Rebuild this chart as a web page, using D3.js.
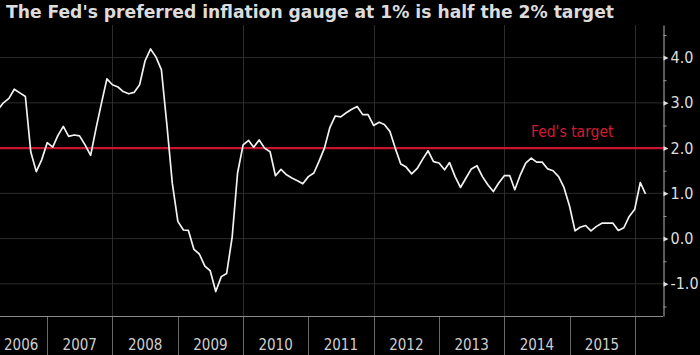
<!DOCTYPE html>
<html><head><meta charset="utf-8">
<script src="https://cdn.jsdelivr.net/npm/d3@7"></script>
<style>html,body{margin:0;padding:0;background:#000;overflow:hidden}</style>
</head><body><svg id="chart" width="700" height="355"></svg>
<script>
const title = "The Fed's preferred inflation gauge at 1% is half the 2% target";
const firstMonth = "2006-04";
const pce2006 = [2.85, 3.0, 3.1, 3.3, 3.22, 3.14, 1.92, 1.48, 1.74];            // Apr-Dec
const pce2007 = [2.12, 2.02, 2.27, 2.48, 2.26, 2.29, 2.27, 2.07, 1.84, 2.43, 3.0, 3.53];
const pce2008 = [3.4, 3.35, 3.25, 3.2, 3.23, 3.4, 3.92, 4.19, 4.01, 3.73, 2.5, 1.22];
const pce2009 = [0.38, 0.19, 0.18, -0.24, -0.34, -0.61, -0.71, -1.17, -0.84, -0.77, 0.04, 1.45];
const pce2010 = [2.07, 2.17, 2.02, 2.18, 2.0, 1.92, 1.39, 1.53, 1.41, 1.34, 1.28, 1.21];
const pce2011 = [1.37, 1.45, 1.7, 2.0, 2.45, 2.71, 2.69, 2.78, 2.86, 2.92, 2.74, 2.74];
const pce2012 = [2.5, 2.57, 2.52, 2.37, 2.0, 1.65, 1.58, 1.43, 1.55, 1.75, 1.94, 1.7];
const pce2013 = [1.67, 1.52, 1.68, 1.37, 1.13, 1.34, 1.54, 1.61, 1.37, 1.19, 1.04, 1.23];
const pce2014 = [1.39, 1.39, 1.08, 1.41, 1.67, 1.78, 1.69, 1.69, 1.54, 1.5, 1.37, 1.13];
const pce2015 = [0.72, 0.17, 0.25, 0.29, 0.17, 0.27, 0.34, 0.34, 0.34, 0.18, 0.24, 0.49];
const pce2016 = [0.65, 1.24, 0.99];                                               // Jan-Mar
const yearLabels = ["2006","2007","2008","2009","2010","2011","2012","2013","2014","2015"];
const yTickValues = [-1, 0, 1, 2, 3, 4];
const yMinorValues = [-1.5, -0.5, 0.5, 1.5, 2.5, 3.5, 4.5];
const targetValue = 2;
const targetLabel = "Fed's target";

const values = [].concat(pce2006, pce2007, pce2008, pce2009, pce2010, pce2011,
  pce2012, pce2013, pce2014, pce2015, pce2016);
const start = d3.timeParse("%Y-%m")(firstMonth);
const data = values.map((v, i) => ({date: d3.timeMonth.offset(start, i), value: v}));

const FONT = "'DejaVu Sans Condensed', 'DejaVu Sans', sans-serif";
const W = 700, H = 355;
const plot = {left: 0, right: 663, top: 25, bottom: 316};
const svg = d3.select("#chart");
svg.append("rect").attr("width", W).attr("height", H).attr("fill", "#000");

const x = d3.scaleTime()
  .domain([new Date(2006, 3, 12), new Date(2016, 5, 7)])
  .range([plot.left, plot.right]);
const y = d3.scaleLinear().domain([-1.71, 4.72]).range([plot.bottom, plot.top]);

// title
svg.append("text").attr("x", 6).attr("y", 18)
  .attr("font-family", FONT).attr("font-stretch", "condensed")
  .attr("font-weight", "bold").attr("font-size", 17)
  .attr("fill", "#dcdcdc")
  .attr("textLength", 608).attr("lengthAdjust", "spacingAndGlyphs")
  .text(title);

// horizontal gridlines
svg.append("g").selectAll("line").data(yTickValues).join("line")
  .attr("x1", plot.left).attr("x2", plot.right)
  .attr("y1", d => y(d)).attr("y2", d => y(d))
  .attr("stroke", "#2c2c2c").attr("stroke-width", 1);

// vertical gridlines every two years
const yearStarts = yearLabels.map(s => new Date(+s, 0, 1)).concat([new Date(2016, 0, 1)]);
svg.append("g").selectAll("line")
  .data(yearStarts.filter(d => d.getFullYear() % 2 === 0 && x(d) > plot.left))
  .join("line")
  .attr("x1", d => Math.round(x(d)) + 0.5).attr("x2", d => Math.round(x(d)) + 0.5)
  .attr("y1", plot.top).attr("y2", plot.bottom)
  .attr("stroke", "#2c2c2c").attr("stroke-width", 1);

// year separators below plot
svg.append("g").selectAll("line")
  .data(yearStarts.filter(d => x(d) > plot.left))
  .join("line")
  .attr("x1", d => Math.round(x(d)) + 0.5).attr("x2", d => Math.round(x(d)) + 0.5)
  .attr("y1", plot.bottom).attr("y2", H)
  .attr("stroke", "#6a6a6a").attr("stroke-width", 1);

// bottom frame
svg.append("line").attr("x1", plot.left).attr("x2", plot.right)
  .attr("y1", plot.bottom + 0.5).attr("y2", plot.bottom + 0.5)
  .attr("stroke", "#8a8a8a");

// year labels
svg.append("g").selectAll("text").data(yearLabels).join("text")
  .each(function(s) {
    const x0 = x(new Date(+s, 0, 1)), mid = x(new Date(+s, 6, 2));
    const t = d3.select(this);
    if (x0 < plot.left) t.attr("x", 4).attr("text-anchor", "start");
    else t.attr("x", mid).attr("text-anchor", "middle");
  })
  .attr("y", 350)
  .attr("font-family", FONT).attr("font-stretch", "condensed")
  .attr("font-size", 15).attr("fill", "#cfcfcf")
  .text(d => d);

// target line
svg.append("line").attr("x1", plot.left).attr("x2", plot.right)
  .attr("y1", y(targetValue)).attr("y2", y(targetValue))
  .attr("stroke", "#c8142f").attr("stroke-width", 2.2);
svg.append("text").attr("x", 531).attr("y", y(targetValue) - 11.5)
  .attr("font-family", FONT).attr("font-stretch", "condensed")
  .attr("font-size", 15.5).attr("fill", "#d01c33")
  .text(targetLabel);

// data line
svg.append("clipPath").attr("id", "clip").append("rect")
  .attr("x", plot.left).attr("y", plot.top)
  .attr("width", plot.right - plot.left).attr("height", plot.bottom - plot.top);
svg.append("path").datum(data)
  .attr("clip-path", "url(#clip)")
  .attr("fill", "none").attr("stroke", "#f2f2f2").attr("stroke-width", 1.7)
  .attr("stroke-linejoin", "round")
  .attr("d", d3.line().x(d => x(d.date)).y(d => y(d.value)));

// right axis
const axisG = svg.append("g").attr("transform", `translate(${plot.right + 0.5},0)`);
axisG.call(d3.axisRight(y).tickValues(yTickValues).tickSize(0).tickSizeOuter(0)
  .tickPadding(7).tickFormat(d => d.toFixed(1)));
axisG.select(".domain").attr("stroke", "#b5b5b5");
axisG.selectAll("text")
  .attr("font-family", FONT).attr("font-stretch", "condensed")
  .attr("font-size", 16).attr("fill", "#dedede");
axisG.selectAll(".tick").append("path")
  .attr("d", "M0,-2.5L5,0L0,2.5Z").attr("fill", "#e0e0e0");
const minorG = svg.append("g").attr("transform", `translate(${plot.right + 0.5},0)`);
minorG.call(d3.axisRight(y).tickValues(yMinorValues).tickSize(3).tickSizeOuter(0).tickFormat(""));
minorG.select(".domain").remove();
minorG.selectAll("line").attr("stroke", "#9a9a9a");
</script></body></html>
